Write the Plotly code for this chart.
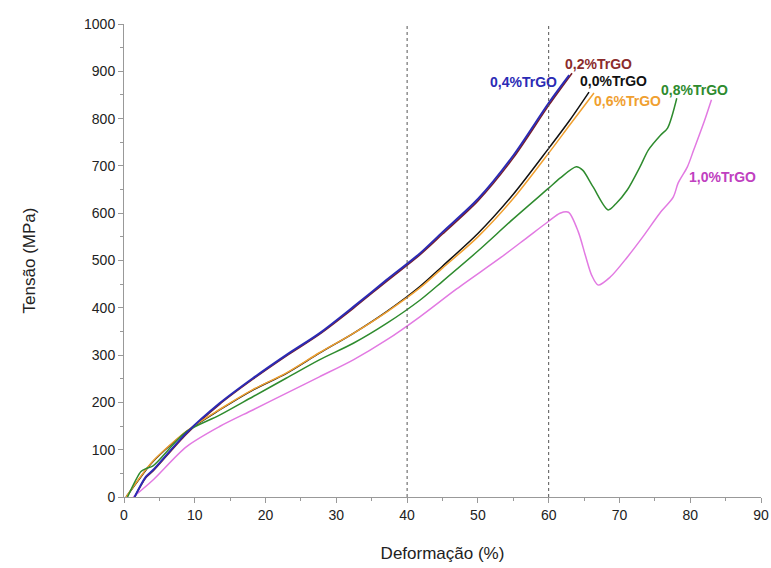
import plotly.graph_objects as go

# ---- data ----
x04 = [1.5, 3.1, 4.1, 8.8, 13.5, 18.2, 22.9, 27.6, 32.4, 37.1, 41.8, 45, 50, 55, 60, 62.9]
y04 = [0, 43, 57, 135, 198, 251, 300, 346, 402, 459, 515, 560, 630, 722, 833, 892]

x02 = [1.5, 3.1, 4.1, 8.8, 13.5, 18.2, 22.9, 27.6, 32.4, 37.1, 41.8, 45, 50, 55, 60, 63.3]
y02 = [0, 41, 55, 133, 196, 249, 298, 344, 399, 456, 512, 556, 626, 717, 828, 896]

x00 = [0.3, 2, 4.1, 8.8, 13.5, 18.2, 22.9, 27.6, 32.4, 37.1, 41.8, 45, 50, 55, 60, 63, 65.7]
y00 = [0, 35, 75, 138, 184, 226, 261, 304, 346, 392, 445, 488, 557, 640, 737, 797, 856]

x06 = [0.3, 2, 4.1, 8.8, 13.5, 18.2, 22.9, 27.6, 32.4, 37.1, 41.8, 45, 50, 55, 60, 63, 66.4]
y06 = [0, 36, 76, 139, 185, 227, 262, 305, 346, 391, 442, 484, 550, 631, 727, 787, 854]

x08 = [0.5, 2.4, 3.1, 4.1, 8.8, 13.5, 18.2, 22.9, 27.6, 32.4, 37.1, 41.8, 45, 50, 55, 60,
       61.6, 63.9, 64.8, 66.3, 68.4, 69.5, 71.1, 72.9, 74.1, 75.8, 76.8, 78.1]
y08 = [0, 54, 60, 66, 138, 173, 212, 251, 290, 325, 367, 416, 456, 520, 588, 653,
       674, 698, 691, 655, 607, 620, 649, 698, 734, 765, 780, 843]

x10 = [1.3, 4.1, 8.8, 13.5, 18.2, 22.9, 27.6, 32.4, 37.1, 41.8, 47, 53.3, 57, 60, 61.6, 62.8,
       64.2, 65.2, 66.1, 67.0, 68.7, 71.1, 73.3, 75.7, 77.6, 78.3, 79.6, 80.5, 82, 83.0]
y10 = [0, 36, 106, 149, 184, 219, 254, 290, 332, 381, 440, 507, 549, 583, 600, 602,
       560, 510, 468, 448, 465, 507, 550, 600, 634, 664, 698, 734, 795, 840]

series = [
    ("0,2%TrGO", x02, y02, "#7a1e2a", 1.6),
    ("0,0%TrGO", x00, y00, "#111111", 1.5),
    ("0,6%TrGO", x06, y06, "#f0a030", 1.5),
    ("0,8%TrGO", x08, y08, "#2e8b2e", 1.5),
    ("1,0%TrGO", x10, y10, "#e27ae2", 1.5),
    ("0,4%TrGO", x04, y04, "#2b2bb5", 2.0),
]

labels = [
    ("0,4%TrGO", 56.5, 878, "#2b2bb5"),
    ("0,2%TrGO", 67.1, 915, "#8b2c2c"),
    ("0,0%TrGO", 69.1, 879, "#111111"),
    ("0,6%TrGO", 71.2, 837, "#f0a030"),
    ("0,8%TrGO", 80.6, 860, "#2e8b2e"),
    ("1,0%TrGO", 84.5, 676, "#c040c0"),
]

vlines = [40, 60]

fig = go.Figure()
for name, xs, ys, col, w in series:
    fig.add_trace(go.Scatter(x=xs, y=ys, mode="lines", name=name,
                             line=dict(color=col, width=w, shape="spline", smoothing=0.8)))

for v in vlines:
    fig.add_shape(type="line", x0=v, x1=v, y0=0, y1=1000, xref="x", yref="y",
                  line=dict(color="#555555", width=1, dash="dot"))

for txt, x, y, col in labels:
    fig.add_annotation(x=x, y=y, text="<b>%s</b>" % txt, showarrow=False,
                       font=dict(color=col, size=14, family="Liberation Sans, Arial"))

fig.update_layout(
    width=771, height=568,
    margin=dict(l=124, r=10, t=24, b=71),
    paper_bgcolor="white", plot_bgcolor="white",
    showlegend=False,
    font=dict(family="Liberation Sans, Arial", color="#222222"),
)
fig.update_xaxes(range=[0, 90], tick0=0, dtick=10, showgrid=False, zeroline=False,
                 automargin=False,
                 showline=True, linecolor="#999999", linewidth=1,
                 ticks="outside", ticklen=5, tickcolor="#999999",
                 minor=dict(ticks="outside", ticklen=3, dtick=5, tickcolor="#999999"),
                 tickfont=dict(size=14, color="#222222"),
                 title=dict(text="Deformação (%)", font=dict(size=17), standoff=25))
fig.update_yaxes(range=[0, 1000], tick0=0, dtick=100, showgrid=False, zeroline=False,
                 automargin=False,
                 showline=True, linecolor="#999999", linewidth=1,
                 ticks="outside", ticklen=5, tickcolor="#999999",
                 minor=dict(ticks="outside", ticklen=3, dtick=50, tickcolor="#999999"),
                 tickfont=dict(size=14, color="#222222"),
                 title=dict(text="Tensão (MPa)", font=dict(size=17), standoff=44))

# remove the default page margin so the figure fills the window exactly; hide the modebar
fig.write_html("out.html", config={"displayModeBar": False},
               post_script="document.body.style.margin='0';document.body.style.overflow='hidden';")
